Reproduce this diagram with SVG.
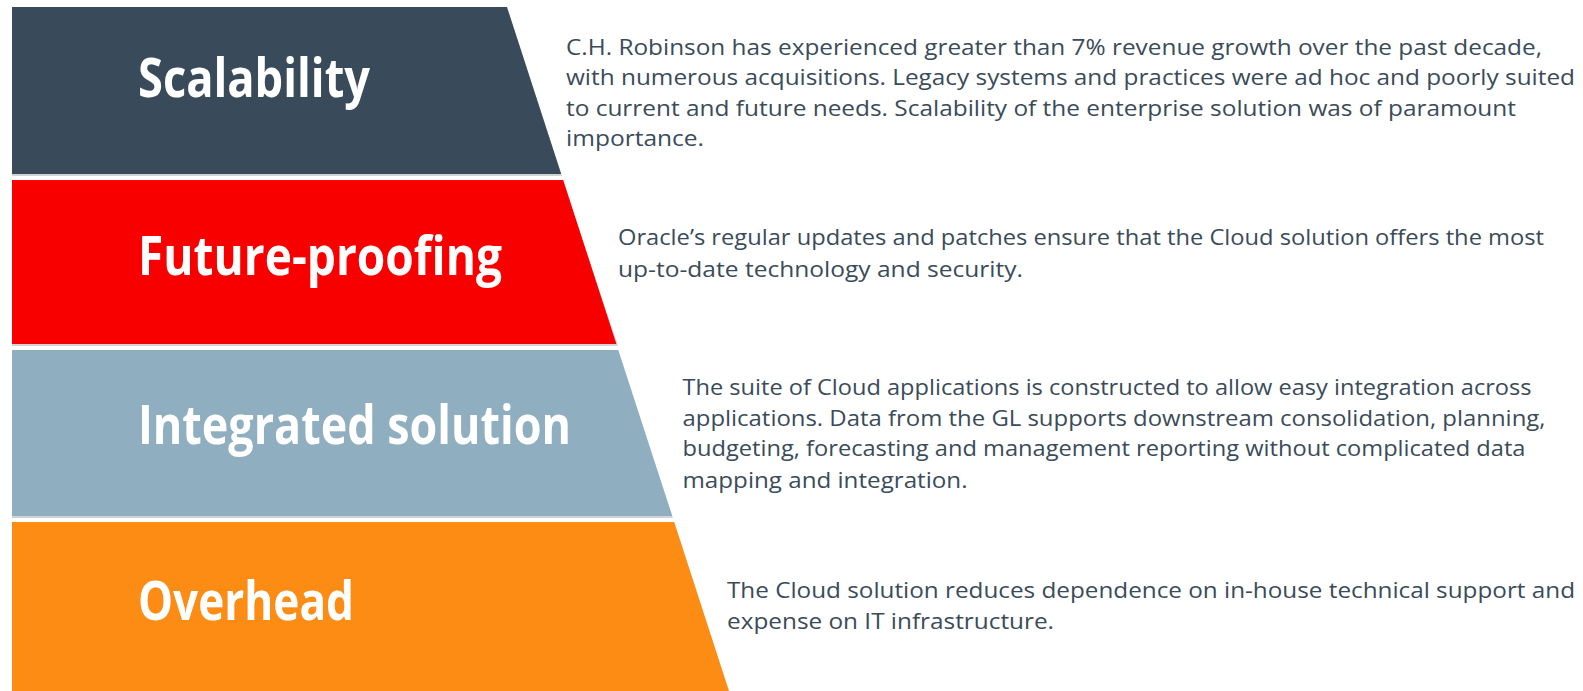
<svg xmlns="http://www.w3.org/2000/svg" width="1583" height="691" viewBox="0 0 1583 691">
<style>
.shadow{fill:#cfd4d9}
.title{font-family:"Open Sans","Noto Sans","Liberation Sans",sans-serif;font-weight:700;font-size:54px;fill:#ffffff}
.body{font-family:"Open Sans","Noto Sans","Liberation Sans",sans-serif;font-size:21.5px;fill:#3a4b5a}
</style>
<rect width="1583" height="691" fill="#ffffff"/>
<g id="scalability">
<polygon class="shadow" points="12,9 507,9 562,176 12,176"/>
<polygon points="12,7 507,7 561.2,174 12,174" fill="#394b5a"/>
<text class="title" x="138" y="97" textLength="232" lengthAdjust="spacingAndGlyphs">Scalability</text>
<text class="body" x="566" y="54.5" textLength="976" lengthAdjust="spacingAndGlyphs">C.H. Robinson has experienced greater than 7% revenue growth over the past decade,</text>
<text class="body" x="566" y="85" textLength="1009" lengthAdjust="spacingAndGlyphs">with numerous acquisitions. Legacy systems and practices were ad hoc and poorly suited</text>
<text class="body" x="566" y="115.8" textLength="950" lengthAdjust="spacingAndGlyphs">to current and future needs. Scalability of the enterprise solution was of paramount</text>
<text class="body" x="566" y="146.4" textLength="138" lengthAdjust="spacingAndGlyphs">importance.</text>
</g>
<g id="future-proofing">
<polygon class="shadow" points="12,182 563,182 618,346 12,346"/>
<polygon points="12,180 563.2,180 616.4,344 12,344" fill="#f80000"/>
<text class="title" x="138" y="274.6" textLength="364" lengthAdjust="spacingAndGlyphs">Future-proofing</text>
<text class="body" x="618" y="245.3" textLength="926" lengthAdjust="spacingAndGlyphs">Oracle’s regular updates and patches ensure that the Cloud solution offers the most</text>
<text class="body" x="618" y="276.6" textLength="405" lengthAdjust="spacingAndGlyphs">up-to-date technology and security.</text>
</g>
<g id="integrated-solution">
<polygon class="shadow" points="12,352 618,352 673,518 12,518"/>
<polygon points="12,350 618.3,350 672.2,516 12,516" fill="#8faec0"/>
<text class="title" x="138" y="444" textLength="433" lengthAdjust="spacingAndGlyphs">Integrated solution</text>
<text class="body" x="682.5" y="394.7" textLength="849" lengthAdjust="spacingAndGlyphs">The suite of Cloud applications is constructed to allow easy integration across</text>
<text class="body" x="682.5" y="425.5" textLength="863" lengthAdjust="spacingAndGlyphs">applications. Data from the GL supports downstream consolidation, planning,</text>
<text class="body" x="682.5" y="456.3" textLength="843" lengthAdjust="spacingAndGlyphs">budgeting, forecasting and management reporting without complicated data</text>
<text class="body" x="682.5" y="487.6" textLength="285" lengthAdjust="spacingAndGlyphs">mapping and integration.</text>
</g>
<g id="overhead">
<polygon points="12,522 674.2,522 729,691 12,691" fill="#fd8c15"/>
<text class="title" x="138" y="620" textLength="216" lengthAdjust="spacingAndGlyphs">Overhead</text>
<text class="body" x="727" y="597.7" textLength="848" lengthAdjust="spacingAndGlyphs">The Cloud solution reduces dependence on in-house technical support and</text>
<text class="body" x="727" y="629" textLength="327" lengthAdjust="spacingAndGlyphs">expense on IT infrastructure.</text>
</g>
</svg>
